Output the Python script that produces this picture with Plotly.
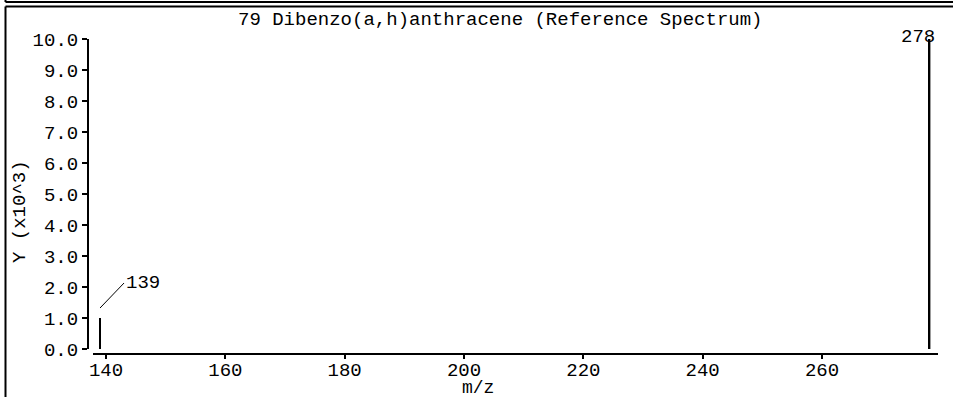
import plotly.graph_objects as go

# ---- data ----
mz = [139, 278]
intensity = [1.0, 10.0]          # Y (x10^3)
peak_labels = ["139", "278"]
x_ticks = [140, 160, 180, 200, 220, 240, 260]
y_ticks = [0, 1, 2, 3, 4, 5, 6, 7, 8, 9, 10]
title_text = "79 Dibenzo(a,h)anthracene (Reference Spectrum)"
x_label = "m/z"
y_label = "Y (x10^3)"

W, H = 953, 397
ML, MR, MT, MB = 88, 15, 39, 43
PW, PH = W - ML - MR, H - MT - MB
FONT = "Liberation Mono"
FS = 19


def px(xp):
    return (xp - ML) / PW


def py(yp):
    return (H - MB - yp) / PH


fig = go.Figure()
fig.add_trace(go.Bar(x=mz, y=intensity, width=0.33,
                     marker=dict(color="black", line=dict(width=0)),
                     hoverinfo="x+y", showlegend=False))

fig.update_layout(
    width=W, height=H,
    margin=dict(l=ML, r=MR, t=MT, b=MB, autoexpand=False),
    paper_bgcolor="white", plot_bgcolor="white",
    font=dict(family=FONT, size=FS, color="black"),
    showlegend=False,
    xaxis=dict(domain=[px(93), 1], anchor="free", position=0,
               range=[137.82, 279.44], tickvals=x_ticks,
               ticktext=[str(v) for v in x_ticks],
               showline=True, linecolor="black", linewidth=2,
               ticks="outside", ticklen=4, tickwidth=2, tickcolor="black",
               ticklabelstandoff=-6,
               showgrid=False, zeroline=False, automargin=False,
               tickfont=dict(family=FONT, size=FS)),
    yaxis=dict(domain=[py(349), 1], anchor="free", position=0,
               range=[0, 10], tickvals=y_ticks,
               ticktext=["%.1f" % v for v in y_ticks],
               showline=True, linecolor="black", linewidth=2,
               ticks="outside", ticklen=5, tickwidth=2, tickcolor="black",
               showgrid=False, zeroline=False, automargin=False,
               tickfont=dict(family=FONT, size=FS)),
)

annotations = [
    dict(text=title_text, xref="paper", yref="paper", x=px(500), y=py(20),
         xanchor="center", yanchor="middle", showarrow=False),
    dict(text=x_label, xref="paper", yref="paper", x=px(478), y=py(388),
         xanchor="center", yanchor="middle", showarrow=False,
         font=dict(family=FONT, size=18)),
    dict(text=y_label, xref="paper", yref="paper", x=px(20), y=py(212),
         xanchor="center", yanchor="middle", showarrow=False, textangle=-90),
    dict(text=peak_labels[0], x=mz[0], y=intensity[0], xref="x", yref="y",
         showarrow=True, arrowhead=0, arrowwidth=1, arrowcolor="black",
         ax=24, ay=-25, yshift=10, xanchor="left", yanchor="middle"),
    dict(text=peak_labels[1], x=mz[1], y=intensity[1], xref="x", yref="y",
         showarrow=False, xanchor="right", yanchor="middle", xshift=8, yshift=2),
]
fig.update_layout(annotations=annotations)

# window frame lines
frame = dict(color="black", width=2)
shapes = [
    dict(type="line", xref="paper", yref="paper", x0=px(5.5), x1=px(953),
         y0=py(2), y1=py(2), line=frame),
    dict(type="line", xref="paper", yref="paper", x0=px(5.5), x1=px(5.5),
         y0=py(-1), y1=py(2), line=frame),
    dict(type="line", xref="paper", yref="paper", x0=px(5.5), x1=px(953),
         y0=py(6.5), y1=py(6.5), line=frame),
    dict(type="line", xref="paper", yref="paper", x0=px(5.5), x1=px(5.5),
         y0=py(6.5), y1=py(398), line=frame),
]
fig.update_layout(shapes=shapes)

fig.write_html("out.html",
               config={"displayModeBar": False},
               post_script="document.body.style.margin='0';"
                           "document.body.style.overflow='hidden';")
